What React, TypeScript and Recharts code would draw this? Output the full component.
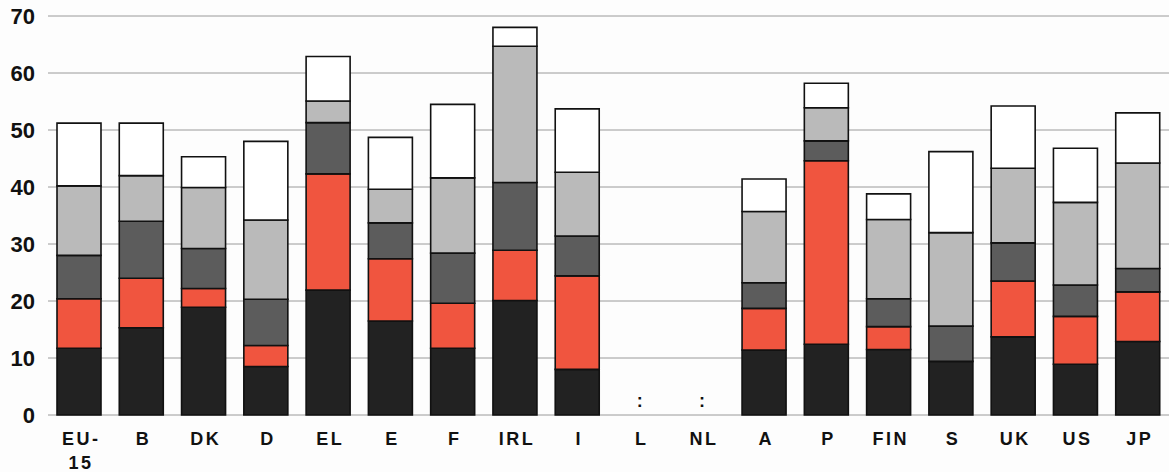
import React from "react";
import { BarChart, Bar, XAxis, YAxis, CartesianGrid } from "recharts";

const countries = ["EU-15", "B", "DK", "D", "EL", "E", "F", "IRL", "I", "L", "NL", "A", "P", "FIN", "S", "UK", "US", "JP"];
const noData = ["L", "NL"];

// five stacked components, bottom to top
const seg1 = [11.7, 15.3, 18.9, 8.5, 21.9, 16.5, 11.7, 20.1, 8.0, null, null, 11.4, 12.4, 11.5, 9.4, 13.7, 8.9, 12.9];
const seg2 = [8.7, 8.7, 3.3, 3.7, 20.4, 10.9, 7.9, 8.8, 16.4, null, null, 7.3, 32.2, 4.0, 0, 9.8, 8.4, 8.7];
const seg3 = [7.6, 10.0, 7.0, 8.1, 9.0, 6.3, 8.8, 11.9, 7.0, null, null, 4.5, 3.5, 4.9, 6.2, 6.7, 5.5, 4.1];
const seg4 = [12.2, 8.0, 10.7, 13.9, 3.8, 5.9, 13.2, 23.9, 11.2, null, null, 12.5, 5.8, 13.9, 16.4, 13.1, 14.5, 18.5];
const seg5 = [11.0, 9.2, 5.4, 13.8, 7.8, 9.1, 12.9, 3.3, 11.1, null, null, 5.7, 4.3, 4.5, 14.2, 10.9, 9.5, 8.8];

const yTicks = [0, 10, 20, 30, 40, 50, 60, 70];

const data = countries.map((c, i) => ({
  name: c,
  s1: seg1[i],
  s2: seg2[i],
  s3: seg3[i],
  s4: seg4[i],
  s5: seg5[i],
}));

const FONT = "'Liberation Sans', Arial, Helvetica, sans-serif";

const XTick = (props: any) => {
  const { x, y, payload } = props;
  const label: string = payload.value;
  const lines = label === "EU-15" ? ["EU-", "15"] : [label];
  return (
    <g>
      {noData.includes(label) && (
        <text x={x} y={y - 16} textAnchor="middle" fontFamily={FONT} fontWeight="bold" fontSize={18} fill="#111">
          :
        </text>
      )}
      {lines.map((l, i) => (
        <text
          key={i}
          x={x + 2}
          y={y + 22 + i * 24}
          textAnchor="middle"
          fontFamily={FONT}
          fontWeight="bold"
          fontSize={18}
          letterSpacing={2.5}
          fill="#111"
        >
          {l}
        </text>
      ))}
    </g>
  );
};

const YTick = (props: any) => {
  const { y, payload } = props;
  return (
    <text x={35} y={y + 8} textAnchor="end" fontFamily={FONT} fontWeight="bold" fontSize={22} fill="#111">
      {payload.value}
    </text>
  );
};

const barProps = { stackId: "a", stroke: "#111", strokeWidth: 1.6, barSize: 44, isAnimationActive: false };

export default function App() {
  return (
    <div style={{ position: "absolute", left: 0, top: 0, width: 1169, height: 472, background: "#fdfdfd" }}>
      <BarChart width={1169} height={472} data={data} margin={{ top: 16, right: 0, bottom: 0, left: 0 }}>
        <CartesianGrid horizontal vertical={false} stroke="#9a9a9a" strokeWidth={1} />
        <XAxis dataKey="name" axisLine={false} tickLine={false} height={57} interval={0} tick={<XTick />} />
        <YAxis domain={[0, 70]} ticks={yTicks} axisLine={false} tickLine={false} width={48} tick={<YTick />} />
        <Bar dataKey="s1" fill="#222222" {...barProps} />
        <Bar dataKey="s2" fill="#f0553f" {...barProps} />
        <Bar dataKey="s3" fill="#5c5c5c" {...barProps} />
        <Bar dataKey="s4" fill="#bababa" {...barProps} />
        <Bar dataKey="s5" fill="#ffffff" {...barProps} />
      </BarChart>
    </div>
  );
}
